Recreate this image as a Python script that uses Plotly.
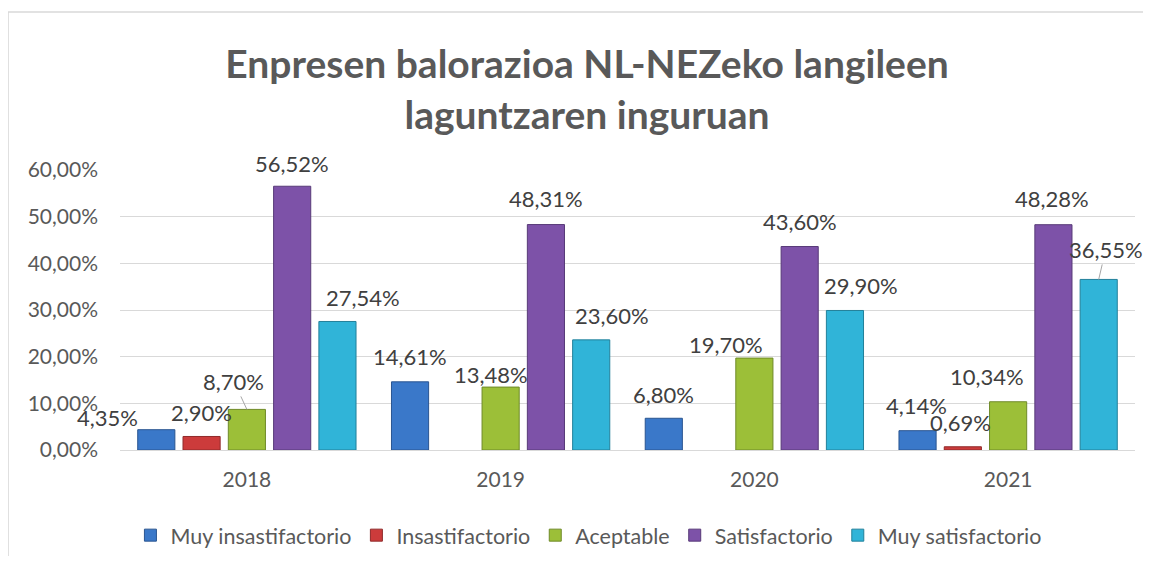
"""
Enpresen balorazioa — Plotly Chart Builders.

Grouped bar chart of company ratings per year, drawn in the Excel style.
"""

import plotly.graph_objects as go

YEARS = [2018, 2019, 2020, 2021]

RATINGS = {
    "Muy insastifactorio": [4.35, 14.61, 6.80, 4.14],
    "Insastifactorio": [2.90, None, None, 0.69],
    "Aceptable": [8.70, 13.48, 19.70, 10.34],
    "Satisfactorio": [56.52, 48.31, 43.60, 48.28],
    "Muy satisfactorio": [27.54, 23.60, 29.90, 36.55],
}

RATING_COLORS = {
    "Muy insastifactorio": ("#3a78c9", "#2a5590"),
    "Insastifactorio": ("#cc3b3b", "#8f2a2a"),
    "Aceptable": ("#9cbf38", "#6f8a28"),
    "Satisfactorio": ("#7d52a8", "#583a78"),
    "Muy satisfactorio": ("#30b4d8", "#22809a"),
}

# label offsets in pixels from the top of each bar (dx, dy; dy down)
LABEL_OFFSETS = {
    "Muy insastifactorio": [(-49, -12), (0, -25), (0, -24), (-1, -25)],
    "Insastifactorio": [(0, -24), None, None, (-2, -24)],
    "Aceptable": [(-13, -28), (-10, -13), (-28, -14), (-21, -25)],
    "Satisfactorio": [(0, -23), (0, -26), (0, -25), (-1, -26)],
    "Muy satisfactorio": [(26, -24), (21, -24), (16, -25), (7, -30)],
}
LEADER_LINES = {("Aceptable", 2018), ("Muy satisfactorio", 2021)}

BARGAP = 0.1075
BARGROUPGAP = 0.18


def pct_label(v):
    """Formats a percentage the Basque/Spanish way: 56,52%."""
    return f"{v:.2f}%".replace(".", ",")


def create_rating_chart(ratings, title=""):
    """Creates a grouped bar chart with value labels for each rating."""
    fig = go.Figure()
    slot = (1 - BARGAP) / len(ratings)
    annotations = []

    for k, (name, values) in enumerate(ratings.items()):
        face, edge = RATING_COLORS[name]
        fig.add_trace(go.Bar(
            x=YEARS,
            y=[v / 100 if v is not None else None for v in values],
            name=name,
            marker=dict(color=face, line=dict(color=edge, width=1)),
            hovertemplate="<b>%{x}</b><br>" + name + ": %{y:.2%}<extra></extra>",
        ))
        shift = (k - (len(ratings) - 1) / 2) * slot
        for i, v in enumerate(values):
            if v is None:
                continue
            dx, dy = LABEL_OFFSETS[name][i]
            ann = dict(
                x=YEARS[i] + shift, y=v / 100,
                xref="x", yref="y",
                text=pct_label(v),
                font=dict(size=22, color="#404040", family="Lato"),
            )
            if (name, YEARS[i]) in LEADER_LINES:
                ann.update(showarrow=True, arrowhead=0, arrowwidth=1,
                           arrowcolor="#a6a6a6", ax=dx, ay=dy, standoff=0)
            else:
                ann.update(showarrow=False, xshift=dx, yshift=-dy)
            annotations.append(ann)

    fig.update_layout(
        paper_bgcolor="white",
        plot_bgcolor="white",
        barmode="group",
        bargap=BARGAP,
        bargroupgap=BARGROUPGAP,
        separators=", ",
        xaxis=dict(tickvals=YEARS, ticktext=[str(y) for y in YEARS],
                   range=[YEARS[0] - 0.5, YEARS[-1] + 0.5],
                   showgrid=False, showline=True, linecolor="#d9d9d9",
                   tickfont=dict(size=21, color="#595959"),
                   ticklabelstandoff=11),
        yaxis=dict(range=[0, 0.6], dtick=0.1, tickformat=".2%",
                   gridcolor="#d9d9d9", zeroline=False,
                   tickfont=dict(size=21, color="#595959"),
                   ticklabelstandoff=21),
        font=dict(color="#595959", family="Lato"),
        showlegend=True,
        legend=dict(
            font=dict(size=21.5, color="#595959"),
            bgcolor="rgba(0,0,0,0)",
            orientation="h",
            yref="container",
            yanchor="middle", y=0.038,
            xanchor="center", x=0.462,
            traceorder="normal",
        ),
        annotations=annotations,
        shapes=[dict(type="rect", xref="paper", yref="paper",
                     x0=-0.1103, x1=1.05, y0=-0.6, y1=1.564,
                     line=dict(color="#d9d9d9", width=1.5), layer="below")],
        margin=dict(l=112, r=16, t=162, b=106),  # page body keeps an 8px margin
        width=1143,
        height=548,
        title=dict(text=title, x=0.5066, xanchor="center",
                   y=0.872, yanchor="middle", yref="container",
                   font=dict(size=39, color="#595959", family="Lato",
                             weight="bold")) if title else None,
    )
    return fig


fig = create_rating_chart(
    RATINGS,
    title="Enpresen balorazioa NL-NEZeko langileen<br>laguntzaren inguruan",
)
fig.write_html("out.html")
